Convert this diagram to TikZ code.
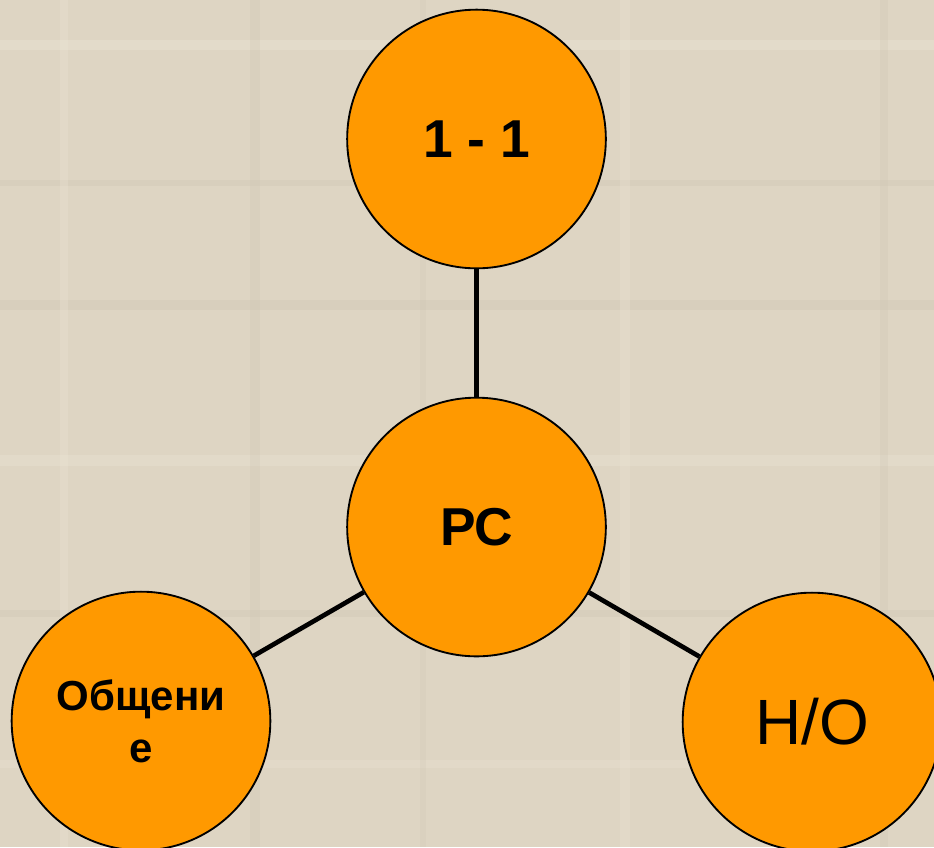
\documentclass[tikz,border=0pt]{standalone}
\usepackage{fontspec}
\setmainfont{Liberation Sans}
\usetikzlibrary{positioning}
\definecolor{paper}{RGB}{222,213,195}
\definecolor{paperdark}{RGB}{205,196,178}
\definecolor{paperlight}{RGB}{236,229,214}
\definecolor{ball}{RGB}{255,153,0}
\begin{document}
\begin{tikzpicture}[x=0.75pt,y=-0.75pt]
                \tikzstyle{ball}=[circle,draw=black,line width=1.4pt,fill=ball,minimum size=194pt,inner sep=0pt]
                \tikzstyle{link}=[black,line width=3.5pt]
                \useasboundingbox (0,0) rectangle (934,847);
                \clip (0,0) rectangle (934,847);
                \fill [paper] (0,0) rectangle (934,847);
                % texture
                \fill [paperlight,opacity=0.4] (0,40) rectangle (934,50);
                \fill [paperdark,opacity=0.3] (0,180) rectangle (934,186);
                \fill [paperdark,opacity=0.3] (0,300) rectangle (934,310);
                \fill [paperlight,opacity=0.35] (0,455) rectangle (934,466);
                \fill [paperdark,opacity=0.3] (0,610) rectangle (934,617);
                \fill [paperlight,opacity=0.3] (0,760) rectangle (934,768);
                \fill [paperdark,opacity=0.25] (250,0) rectangle (260,847);
                \fill [paperlight,opacity=0.3] (620,0) rectangle (630,847);
                \fill [paperdark,opacity=0.25] (880,0) rectangle (888,847);
                \fill [paperlight,opacity=0.3] (60,0) rectangle (68,847);
                \fill [paperdark,opacity=0.2] (420,0) rectangle (426,847);
                % circles
                \node [ball,font=\fontsize{40pt}{48pt}\selectfont\bfseries] (rc) at (476.5,527) {РС};
                \node [ball,font=\fontsize{40pt}{48pt}\selectfont\bfseries] (one) at (476.5,139) {1 - 1};
                \node [ball,align=center,font=\fontsize{31.5pt}{39pt}\selectfont\bfseries] (obsh) at (141,721) {Общени\\е};
                \node [ball,font=\fontsize{48pt}{56pt}\selectfont] (no) at (812,722) {Н/О};
                % links
                \draw [link] (rc) -- (one);
                \draw [link] (rc) -- (obsh);
                \draw [link] (rc) -- (no);
            \end{tikzpicture}
\end{document}
